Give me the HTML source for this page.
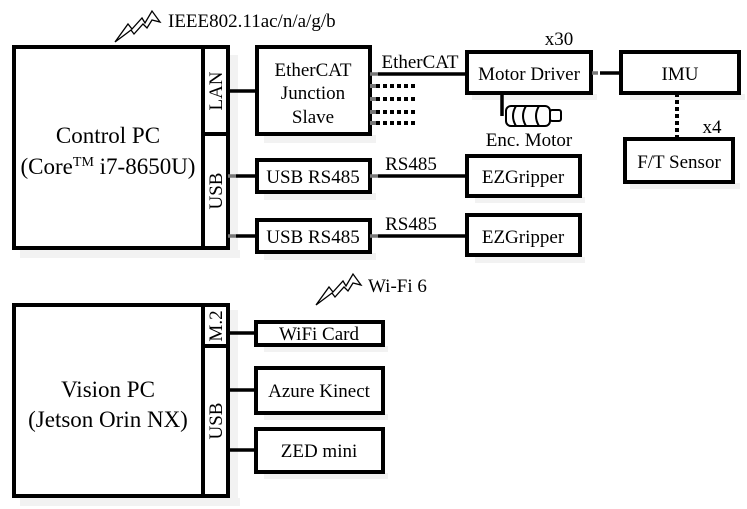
<!DOCTYPE html>
<html><head><meta charset="utf-8"><style>
html,body{margin:0;padding:0;background:#fff;}
svg{display:block;}
svg text{font-family:"Liberation Serif","Times New Roman",serif !important;fill:#000;}
</style></head><body>
<svg width="747" height="509" viewBox="0 0 747 509" xmlns="http://www.w3.org/2000/svg" font-family="Liberation Serif, serif">
<g fill="#f2f2f2">
<rect x="20" y="250" width="220" height="8"/><rect x="230" y="55" width="8" height="200"/>
<rect x="264" y="135" width="112" height="8"/><rect x="264" y="193" width="112" height="7"/><rect x="264" y="253" width="112" height="7"/>
<rect x="475" y="197" width="110" height="6"/><rect x="475" y="257" width="110" height="6"/>
<rect x="472" y="94" width="125" height="6"/><rect x="630" y="94" width="115" height="6"/><rect x="630" y="183" width="110" height="6"/>
<rect x="20" y="498" width="220" height="8"/><rect x="230" y="310" width="8" height="190"/>
<rect x="264" y="346" width="124" height="6"/><rect x="264" y="414" width="124" height="6"/><rect x="264" y="473" width="124" height="6"/>
</g>
<g fill="none" stroke="#000" stroke-width="4">
<rect x="14" y="47" width="214" height="201"/>
<line x1="203" y1="47" x2="203" y2="248"/>
<line x1="203" y1="134" x2="228" y2="134"/>
<rect x="257" y="47" width="113" height="87"/>
<rect x="257" y="160" width="113" height="32"/>
<rect x="257" y="220" width="113" height="32"/>
<rect x="467" y="52" width="124" height="41"/>
<rect x="621" y="52" width="118" height="41"/>
<rect x="625" y="139" width="108" height="43"/>
<rect x="467" y="156" width="113" height="40"/>
<rect x="467" y="215" width="113" height="40"/>
<rect x="14" y="305" width="214" height="191"/>
<line x1="203" y1="305" x2="203" y2="496"/>
<line x1="203" y1="346" x2="228" y2="346"/>
<rect x="256" y="322" width="127" height="23"/>
<rect x="256" y="368" width="127" height="45"/>
<rect x="256" y="429" width="127" height="43"/>
</g>
<g stroke="#000" stroke-width="3.5">
<line x1="228" y1="91" x2="257" y2="91"/>
<line x1="236" y1="176" x2="257" y2="176"/>
<line x1="236" y1="236" x2="257" y2="236"/>
<line x1="378" y1="74" x2="467" y2="74"/>
<line x1="378" y1="176" x2="467" y2="176"/>
<line x1="378" y1="236" x2="467" y2="236"/>
<line x1="600" y1="73" x2="621" y2="73"/>
<line x1="502" y1="93" x2="502" y2="116"/>
<line x1="228" y1="333" x2="256" y2="333"/>
<line x1="228" y1="390" x2="256" y2="390"/>
<line x1="228" y1="450" x2="256" y2="450"/>
</g>
<g stroke="#777" stroke-width="3.5">
<line x1="228" y1="176" x2="236" y2="176"/><line x1="228" y1="236" x2="236" y2="236"/>
<line x1="370" y1="74" x2="378" y2="74"/><line x1="370" y1="176" x2="378" y2="176"/><line x1="370" y1="236" x2="378" y2="236"/>
<line x1="592" y1="73" x2="598" y2="73"/>
</g>
<g stroke="#000" stroke-width="4" stroke-dasharray="4 3">
<line x1="376" y1="86" x2="418" y2="86"/><line x1="376" y1="99" x2="418" y2="99"/>
<line x1="376" y1="112" x2="418" y2="112"/><line x1="376" y1="123" x2="418" y2="123"/>
<line x1="677" y1="93" x2="677" y2="139"/>
</g>
<g stroke="#777" stroke-width="4"><line x1="370" y1="86" x2="376" y2="86"/><line x1="370" y1="99" x2="376" y2="99"/><line x1="370" y1="112" x2="376" y2="112"/><line x1="370" y1="123" x2="376" y2="123"/></g>
<g fill="none" stroke="#000" stroke-width="2">
<rect x="506" y="106" width="44" height="20" rx="5"/>
<path d="M516 106 Q510 116 516 126 M526 106 Q520 116 526 126 M539 106 Q533 116 539 126"/>
<rect x="550" y="110" width="11" height="11" rx="2"/>
<polyline points="115,42 128,24 132,29 142,18 145,23 152,11 160,22 152,20 147,28 143,24 134,34 131,30 115,42" stroke-width="1.3"/>
<polyline points="316,305 329,287 333,292 343,281 346,286 353,274 361,285 353,283 348,291 344,287 335,297 332,293 316,305" stroke-width="1.3"/>
</g>
<g font-size="19" text-anchor="middle" font-family="Liberation Serif, serif">
<text x="313" y="76">EtherCAT</text><text x="313" y="99">Junction</text><text x="313" y="123">Slave</text>
<text x="313" y="183">USB RS485</text><text x="313" y="243">USB RS485</text>
<text x="529" y="80">Motor Driver</text><text x="680" y="80">IMU</text><text x="679" y="168">F/T Sensor</text>
<text x="523" y="183">EZGripper</text><text x="523" y="243">EZGripper</text>
<text x="319" y="340">WiFi Card</text><text x="319" y="397">Azure Kinect</text><text x="319" y="457">ZED mini</text>
<text x="420" y="68">EtherCAT</text><text x="411" y="170">RS485</text><text x="411" y="230">RS485</text>
<text x="529" y="146">Enc. Motor</text><text x="559" y="45">x30</text><text x="712" y="133">x4</text>
</g>
<g font-size="19" font-family="Liberation Serif, serif">
<text x="168" y="27">IEEE802.11ac/n/a/g/b</text><text x="368" y="292">Wi-Fi 6</text>
<text transform="translate(222,91) rotate(-90)" text-anchor="middle">LAN</text>
<text transform="translate(222,191) rotate(-90)" text-anchor="middle">USB</text>
<text transform="translate(222,326) rotate(-90)" text-anchor="middle">M.2</text>
<text transform="translate(222,421) rotate(-90)" text-anchor="middle">USB</text>
</g>
<g font-size="23" text-anchor="middle" font-family="Liberation Serif, serif">
<text x="108" y="143">Control PC</text>
<text x="108" y="174">(Core<tspan font-size="14" dy="-8">TM</tspan><tspan dy="8"> i7-8650U)</tspan></text>
<text x="108" y="397">Vision PC</text><text x="108" y="427">(Jetson Orin NX)</text>
</g>
</svg>
</body></html>
